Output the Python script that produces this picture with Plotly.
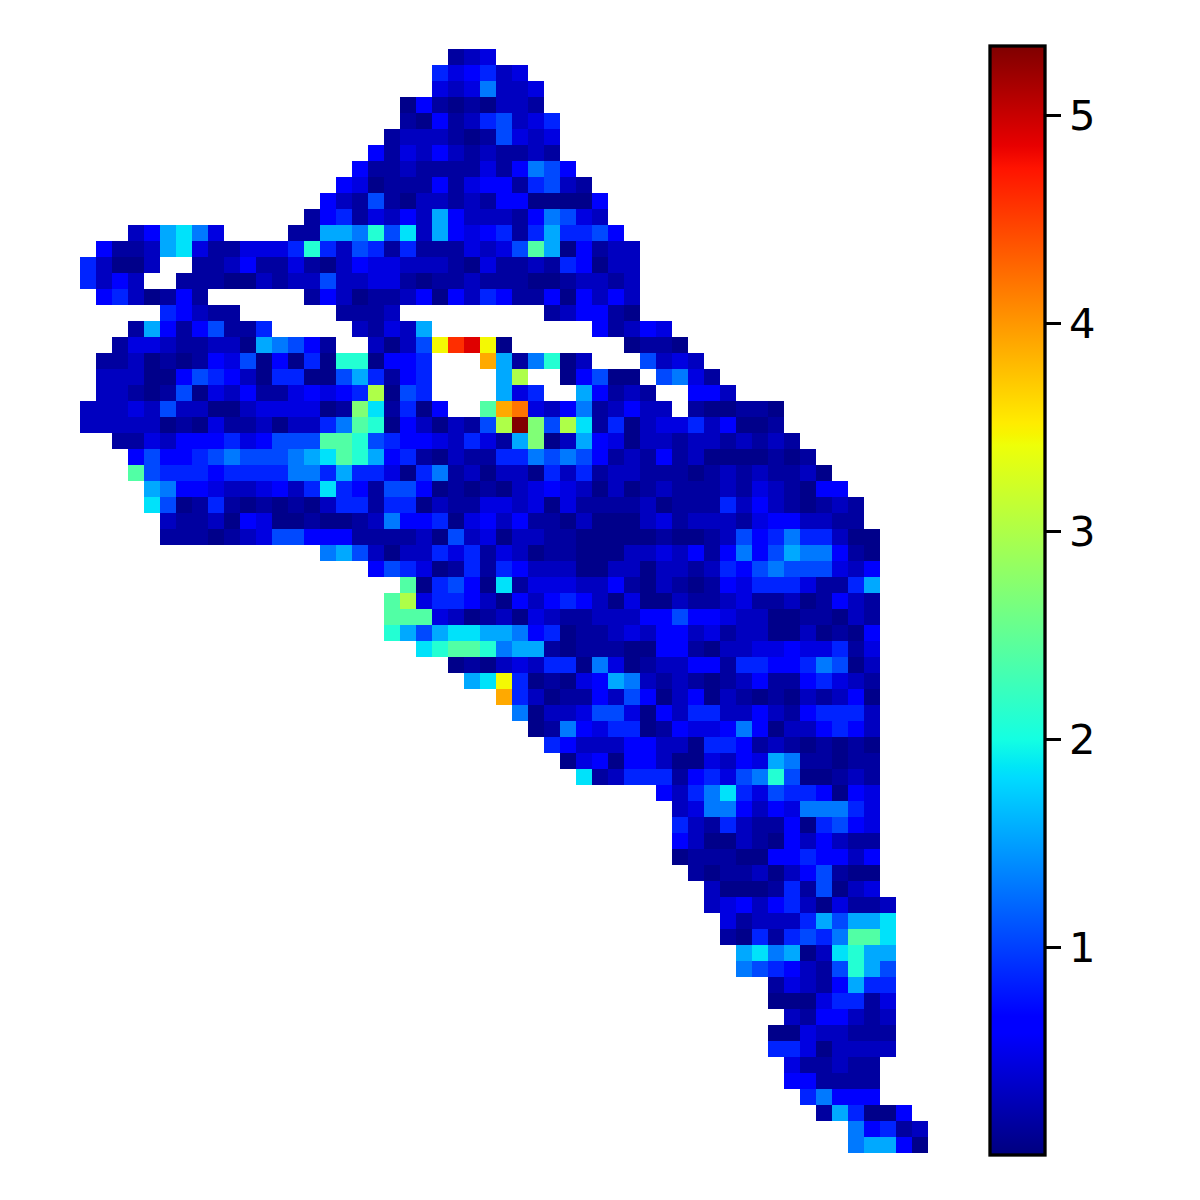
#!/usr/bin/env python3
"""Masked jet heatmap of a river-shaped grid, with a colour bar on the right."""

import numpy as np
import plotly.graph_objects as go

# each letter is one cell, "." is outside the mask
level_codes = "abcdefghijklmnopqrst"
level_values = [0.05, 0.15, 0.3, 0.45, 0.6, 0.85, 1.05, 1.3, 1.55, 1.85,
                2.1, 2.4, 2.7, 3.0, 3.45, 3.9, 4.2, 4.6, 4.9, 5.33]

# first column of each row
row_starts = [23, 22, 22, 20, 20, 19, 18, 17, 16, 15,
              14, 3, 1, 0, 0, 1, 5, 3, 2, 1,
              1, 1, 0, 0, 2, 3, 3, 4, 4, 5,
              5, 15, 18, 20, 19, 19, 19, 21, 23, 24,
              26, 27, 28, 29, 30, 31, 36, 37, 37, 37,
              37, 38, 39, 39, 40, 40, 41, 41, 43, 43,
              44, 43, 43, 44, 44, 45, 46, 48, 48]

row_cells = [
    "bcd",
    "fdefcd",
    "dcdhccd",
    "aebabaccb",
    "baebcfgcdf",
    "bcccbabgdcd",
    "ebdcecbcbbcb",
    "ebbcbbbbdbehge",
    "edabbbebdeebfgcb",
    "ecbgbaccbcbeeaaaae",
    "befbdceciecccbehgdc",
    "ceijhd....bbiihkgjciedefbfiffge",
    "ebbcijdbbdddfkfcgfbfbbbdcdgliaebcc",
    "fcaac..bbcebbdbaceddcccbadbbcbfeacc",
    "fcec..bbbaacbccgccddbabbcbbbaabccbc",
    "efcabeb......becabbceaecfebbeaecec",
    "fecbb......bbbc.........bceeba",
    "biebegbbf.....cbdci..........ebced",
    "bddcbbccaihgeb..cacgorsoa.......abba",
    "bbcababedgaeafakkaeef...pibhkac...gcdc",
    "cccaaegfecaffaagifbef....in..aegaa.ghdb",
    "ccbabgadcebbdedefnagf....idf..iebcb..eec",
    "cccdcgccaacddddabmjbfae..lpqdcehbcecc.baabba",
    "cccccabadbbcaccfhlkaecacbgntmgnjbfacddfceaab",
    "bbdceeefdegggllkgfeedcfdbimaciedaccbccbcbcb",
    "egeefghggghijlkiefbacbbffhghgebcbebcaaaabab",
    "lgfffeffffhhfiffdafhbcaccafcfbccbbbabcbcbbca",
    "iheedccdecfjfebggeababacdedcacabcbbbcbdcbaee",
    "jgabfbababacffbffacbbddcdadbbbbcabbbfcecbabcb",
    "cbbcaedaabaabcheefadecebbacaaacdbcccbdeeccbb",
    "bbbabcdggeeebbbbcagcdaccbbaaaaabaabcgefhffcaa",
    "higcaccfdfbdcabbaaaccdcebehegihheba",
    "egfdabfbfecccaaccaccbcfeghgggdce",
    "lafgeajbdddccebacbabedfffdbbfi",
    "lndffecaecefecadaacbbcdbbcabecb",
    "llldcabcadcbbccceegeedccaabbacb",
    "kigijjiihefabbcdceecdbccaacabae",
    "jkllkhiibabbbaaeebaccddeddfbd",
    "abacdcffahdabcceebffeefhgac",
    "ijofabadeihcbcbabcebbefdcb",
    "pfcabbecgeaceacbabacbcea",
    "haccdggdaecffccecbefffc",
    "abhedffabeddeheaccefec",
    "feccceeccaffebcbababa",
    "adeaeecaadcedihbbabb",
    "jbcfffbefdghkgaabcb",
    "ecfhjfdgffeaed",
    "cdhhecedhhhfd",
    "fcbfcbbeafged",
    "ecaacbaececbb",
    "abbbaaeefeece",
    "babbcacegbaa",
    "caaabfbgacd",
    "cdecefcadbbc",
    "dbcccfigiij",
    "bafbfgfhllj",
    "ijhiacjkii",
    "hgfecbgkig",
    "bdcbeiff",
    "aaadffbd",
    "cbeecbc",
    "aadccbbb",
    "ffdacccc",
    "dbbcbb",
    "eebbbb",
    "fheee",
    "bifaae",
    "hefbc",
    "hiiea",
]

cbar_ticks = [1, 2, 3, 4, 5]

# matplotlib's jet, plotly's own "Jet" has other stops
jet = [
    [0.0, "rgb(0,0,127)"], [0.11, "rgb(0,0,255)"], [0.125, "rgb(0,0,255)"],
    [0.34, "rgb(0,219,255)"], [0.35, "rgb(0,230,247)"], [0.375, "rgb(20,255,226)"],
    [0.64, "rgb(238,255,8)"], [0.65, "rgb(247,245,0)"], [0.66, "rgb(255,236,0)"],
    [0.89, "rgb(255,19,0)"], [0.91, "rgb(232,0,0)"], [1.0, "rgb(127,0,0)"],
]

# ── unpack the rows into a masked grid ──────────────────────────────────────
lookup = dict(zip(level_codes, level_values))
n_cols = max(s + len(c) for s, c in zip(row_starts, row_cells))
grid = np.full((len(row_cells), n_cols), np.nan)
for r, (start, cells) in enumerate(zip(row_starts, row_cells)):
    for k, ch in enumerate(cells):
        if ch != ".":
            grid[r, start + k] = lookup[ch]

# the page body adds 8 px on the left and at the top
fig = go.Figure(
    go.Heatmap(
        z=grid,
        colorscale=jet,
        zmin=0.0,
        zmax=5.337,
        hoverongaps=False,
        colorbar=dict(
            x=981.5 / 1200, xanchor="left", xpad=0,
            y=1 - 37.8 / 1200, yanchor="top", ypad=0,
            thickness=55,
            lenmode="pixels", len=1109,
            outlinewidth=3.3, outlinecolor="black",
            ticks="outside", ticklen=14.6, tickwidth=3.3, tickcolor="black",
            tickvals=cbar_ticks,
            tickprefix="\u00a0",
            tickfont=dict(family="DejaVu Sans", size=41.67, color="black"),
        ),
    )
)

# one cell is 16 px, no axes are shown
fig.update_layout(
    width=1200,
    height=1200,
    margin=dict(l=0, r=0, t=0, b=0),
    paper_bgcolor="white",
    plot_bgcolor="white",
    xaxis=dict(visible=False, range=[-5, 70]),
    yaxis=dict(visible=False, range=[71.9375, -3.0625]),
)

fig.write_html("out.html")
